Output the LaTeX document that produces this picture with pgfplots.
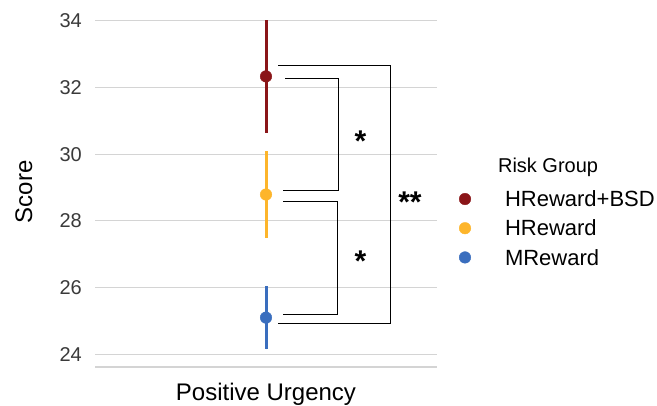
\documentclass[border=0pt]{standalone}
\usepackage{pgfplots}
\pgfplotsset{compat=1.18}
\usepackage{fontspec}
\setmainfont{Liberation Sans}
\definecolor{cBSD}{HTML}{8A1518}
\definecolor{cHR}{HTML}{FDB52B}
\definecolor{cMR}{HTML}{3A6EBE}
\definecolor{gridc}{HTML}{D4D4D4}
\definecolor{tickc}{HTML}{3A3A3A}
\begin{document}
\begin{tikzpicture}
\path[use as bounding box] (0,0) rectangle (657pt,406pt);
\begin{axis}[
  at={(95pt,39pt)}, anchor=south west,
  scale only axis, width=342pt, height=364pt,
  xmin=0, xmax=1, ymin=23.62, ymax=34.53,
  xtick=\empty,
  ytick={24,26,28,30,32,34},
  extra y ticks={23.62}, extra y tick labels={},
  extra y tick style={grid=major},
  ymajorgrids,
  grid style={color=gridc, line width=1.1pt},
  axis line style={draw=none},
  major tick length=0pt,
  yticklabel style={font=\fontsize{20}{24}\selectfont, color=tickc, inner sep=0pt, anchor=east, xshift=-13pt},
  /pgf/number format/assume math mode=true,
  ylabel={Score},
  ylabel style={font=\fontsize{24}{28}\selectfont, at={(axis description cs:-0.208,0.481)}, anchor=center},
  xlabel={Positive Urgency},
  xlabel style={font=\fontsize{24}{28}\selectfont, at={(axis description cs:0.5,-0.0934)}, anchor=base},
  clip=false,
  legend image code/.code={\fill[#1] (0pt,1.9pt) circle (5.8pt);},
  legend cell align=left,
  legend style={draw=none, fill=none, font=\fontsize{22}{26}\selectfont,
    at={(axis description cs:1.055,0.376)}, anchor=west,
    nodes={inner sep=0pt, text height=16pt, text depth=4.5pt},
    row sep=8.7pt,
    /tikz/every odd column/.append style={column sep=34pt}},
]
% brackets
\addplot[black, line width=1.1pt, forget plot] coordinates {(0.556,32.26) (0.711,32.26) (0.711,28.91) (0.551,28.91)};
\addplot[black, line width=1.1pt, forget plot] coordinates {(0.551,28.57) (0.708,28.57) (0.708,25.20) (0.551,25.20)};
\addplot[black, line width=1.1pt, forget plot] coordinates {(0.536,32.66) (0.865,32.66) (0.865,24.93) (0.536,24.93)};
% series
\addplot[only marks, mark=*, mark size=5.8pt, color=cBSD, fill=cBSD,
  error bars/.cd, y dir=both, y explicit, error mark=none,
  error bar style={line width=3pt, color=cBSD}]
  coordinates {(0.5,32.33) +- (0,1.69)};
\addlegendentry{HReward+BSD}
\addplot[only marks, mark=*, mark size=5.8pt, color=cHR, fill=cHR,
  error bars/.cd, y dir=both, y explicit, error mark=none,
  error bar style={line width=3pt, color=cHR}]
  coordinates {(0.5,28.79) +- (0,1.30)};
\addlegendentry{HReward}
\addplot[only marks, mark=*, mark size=5.8pt, color=cMR, fill=cMR,
  error bars/.cd, y dir=both, y explicit, error mark=none,
  error bar style={line width=3pt, color=cMR}]
  coordinates {(0.5,25.10) +- (0,0.95)};
\addlegendentry{MReward}
% stars
\node[font=\bfseries\fontsize{30}{30}\selectfont, inner sep=0pt] at (axis cs:0.776,30.38) {*};
\node[font=\bfseries\fontsize{30}{30}\selectfont, inner sep=0pt] at (axis cs:0.776,26.78) {*};
\node[font=\bfseries\fontsize{30}{30}\selectfont, inner sep=0pt] at (axis cs:0.921,28.57) {**};
% legend title
\node[font=\fontsize{20}{24}\selectfont, anchor=base west, inner sep=0pt] at (axis description cs:1.178,0.533) {Risk Group};
\end{axis}
\end{tikzpicture}
\end{document}
